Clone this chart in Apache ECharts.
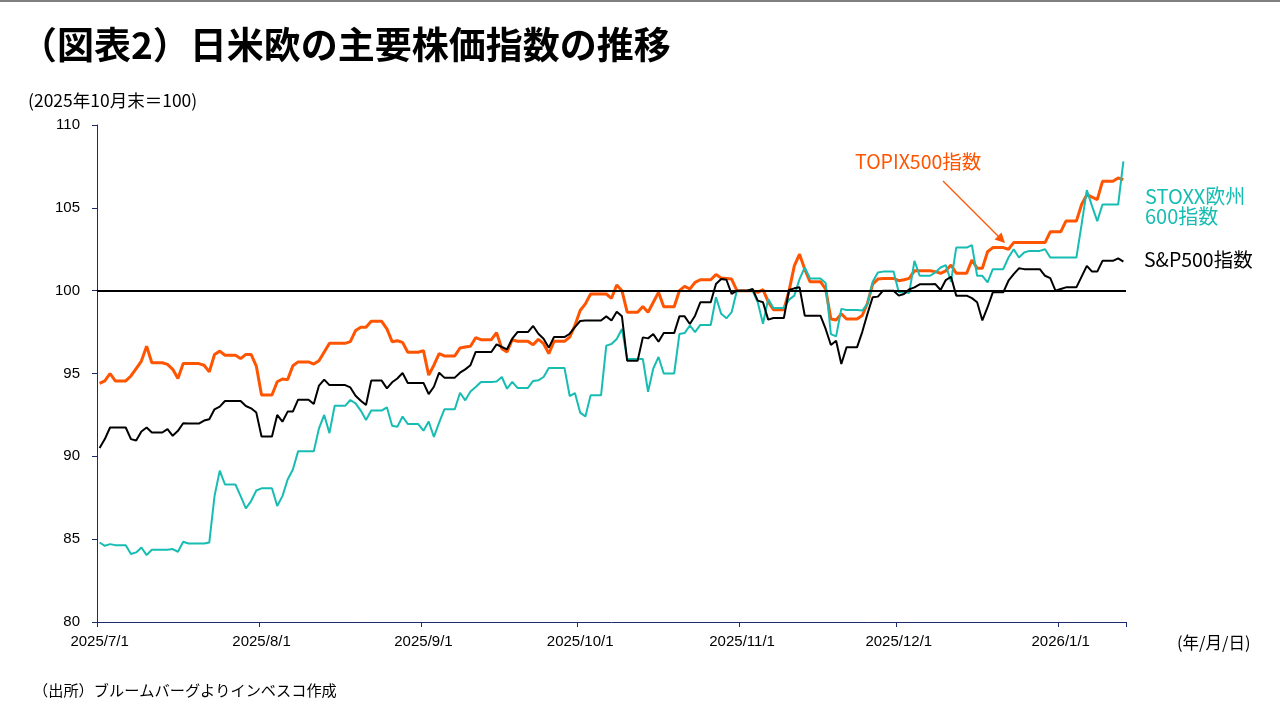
<!DOCTYPE html>
<html>
<head>
<meta charset="utf-8">
<script src="https://cdn.jsdelivr.net/npm/echarts@6/dist/echarts.min.js"></script>
<style>
html,body{margin:0;padding:0;background:#fff;}
#chart{width:1280px;height:720px;}
</style>
</head>
<body>
<div id="chart"></div>
<script>
// Calendar-day values (weekends/holidays carry the previous close), 2025/7/1 .. 2026/1/13
const topix500 = [
 // Jul
 94.4,94.55,95.0,94.55,94.55,94.55,94.85,95.3,95.75,96.65,95.65,95.65,95.65,95.55,95.25,94.7,95.6,95.6,95.6,95.6,95.5,95.1,96.15,96.35,96.1,96.1,96.1,95.9,96.15,96.15,95.45,
 // Aug
 93.7,93.7,93.7,94.5,94.67,94.63,95.47,95.7,95.7,95.7,95.57,95.77,96.3,96.82,96.82,96.82,96.82,96.92,97.59,97.79,97.79,98.15,98.15,98.15,97.69,96.92,96.98,96.88,96.28,96.28,96.28,
 // Sep
 96.38,94.9,95.5,96.2,96.06,96.06,96.06,96.54,96.6,96.64,97.16,97.04,97.04,97.04,97.46,96.5,96.3,97.04,96.94,96.94,96.94,96.74,97.06,96.8,96.2,96.94,96.94,96.94,97.2,97.9,
 // Oct
 98.8,99.2,99.8,99.8,99.8,99.8,99.54,100.34,100.0,98.7,98.7,98.7,99.05,98.7,99.3,99.9,99.03,99.03,99.03,100.0,100.26,100.1,100.5,100.66,100.66,100.66,100.97,100.76,100.74,100.7,100.0,
 // Nov
 100.0,100.0,100.0,99.9,100.06,99.34,98.85,98.85,98.85,100.0,101.5,102.2,101.3,100.54,100.54,100.54,100.1,98.29,98.23,98.6,98.29,98.29,98.29,98.5,99.24,100.4,100.7,100.74,100.74,100.74,
 // Dec
 100.6,100.66,100.74,101.2,101.2,101.2,101.2,101.15,101.05,101.2,101.55,101.05,101.05,101.05,101.85,101.35,101.35,102.35,102.6,102.6,102.6,102.5,102.9,102.9,102.9,102.9,102.9,102.9,102.9,103.55,103.55,
 // Jan
 103.55,104.2,104.2,104.2,105.2,105.8,105.65,105.5,106.6,106.6,106.6,106.8,106.7
];
const stoxx600 = [
 // Jul
 84.8,84.6,84.7,84.64,84.64,84.64,84.1,84.2,84.5,84.04,84.36,84.36,84.36,84.36,84.4,84.24,84.84,84.74,84.74,84.74,84.74,84.8,87.6,89.14,88.3,88.3,88.3,87.6,86.86,87.3,87.94,
 // Aug
 88.07,88.07,88.07,87.0,87.6,88.6,89.2,90.3,90.3,90.3,90.3,91.69,92.5,91.4,93.05,93.05,93.05,93.4,93.2,92.76,92.2,92.76,92.76,92.76,92.96,91.85,91.79,92.4,91.95,91.95,91.95,
 // Sep
 91.55,92.1,91.17,92.03,92.84,92.84,92.84,93.84,93.38,93.92,94.19,94.49,94.49,94.49,94.52,94.79,94.08,94.49,94.13,94.13,94.13,94.55,94.59,94.79,95.33,95.33,95.33,95.33,93.64,93.82,
 // Oct
 92.64,92.41,93.68,93.68,93.68,96.68,96.78,97.08,97.69,95.88,95.88,95.88,95.88,93.9,95.3,96.0,95.0,95.0,95.0,97.38,97.44,97.9,97.5,97.93,97.93,97.93,99.6,98.6,98.33,98.7,100.0,
 // Nov
 100.0,100.0,100.0,99.3,98.0,99.5,98.95,98.95,98.95,99.46,99.7,100.7,101.4,100.74,100.74,100.74,100.46,97.38,97.24,98.9,98.83,98.83,98.83,98.8,99.2,100.54,101.1,101.15,101.15,101.15,
 // Dec
 99.9,99.9,99.86,101.8,100.9,100.9,100.9,101.1,101.4,101.54,100.54,102.6,102.6,102.6,102.75,100.9,100.9,100.5,101.3,101.3,101.3,102.0,102.5,102.0,102.3,102.4,102.4,102.4,102.5,102.0,102.0,
 // Jan
 102.0,102.0,102.0,102.0,104.0,106.07,105.1,104.2,105.2,105.2,105.2,105.2,107.8
];
const sp500 = [
 // Jul
 90.5,91.04,91.74,91.74,91.74,91.74,91.04,90.96,91.5,91.74,91.44,91.44,91.44,91.64,91.24,91.54,92.0,91.98,91.98,91.98,92.16,92.24,92.84,93.0,93.34,93.34,93.34,93.34,93.04,92.9,92.64,
 // Aug
 91.2,91.2,91.2,92.5,92.09,92.7,92.7,93.42,93.42,93.42,93.16,94.27,94.63,94.3,94.3,94.3,94.3,94.16,93.66,93.36,93.1,94.57,94.57,94.57,94.1,94.47,94.7,95.03,94.43,94.43,94.43,
 // Sep
 94.43,93.76,94.2,95.05,94.75,94.75,94.75,95.05,95.25,95.5,96.3,96.3,96.3,96.3,96.76,96.6,96.46,97.1,97.5,97.5,97.5,97.87,97.4,97.1,96.56,97.2,97.2,97.2,97.4,97.8,
 // Oct
 98.17,98.2,98.2,98.2,98.2,98.45,98.2,98.73,98.45,95.77,95.77,95.77,97.18,97.12,97.38,96.92,97.44,97.44,97.44,98.45,98.45,97.99,98.49,99.3,99.3,99.3,100.4,100.7,100.66,99.8,100.0,
 // Nov
 100.0,100.0,100.1,99.4,99.3,98.25,98.35,98.35,98.35,100.04,100.14,100.2,98.49,98.49,98.49,98.49,97.69,96.72,96.98,95.57,96.58,96.58,96.58,97.5,98.6,99.6,99.64,100.0,100.0,100.0,
 // Dec
 99.7,99.8,100.08,100.2,100.38,100.38,100.38,100.4,100.04,100.64,100.84,99.7,99.7,99.7,99.55,99.3,98.2,99.0,99.9,99.9,99.9,100.6,101.0,101.35,101.3,101.3,101.3,101.3,100.9,100.76,100.0,
 // Jan
 100.1,100.2,100.2,100.2,100.85,101.5,101.15,101.15,101.8,101.8,101.8,101.95,101.75
];
const monthTicks = ['2025/7/1','2025/8/1','2025/9/1','2025/10/1','2025/11/1','2025/12/1','2026/1/1'];
const yTicks = { min: 80, max: 110, step: 5 };

// category list: every calendar day from 2025/7/1
const categories = [];
{
  const d = new Date(2025, 6, 1);
  for (let i = 0; i < topix500.length; i++) {
    categories.push(d.getFullYear() + '/' + (d.getMonth() + 1) + '/' + d.getDate());
    d.setDate(d.getDate() + 1);
  }
}

const ORANGE = '#FF5400';
const TEAL = '#17BDB2';
const NAVY = '#1B2A6B';
const JP = '"Noto Sans CJK JP", "Noto Sans", sans-serif';
const LAT = '"Liberation Sans", Arial, sans-serif';

const chart = echarts.init(document.getElementById('chart'), null, { renderer: 'canvas' });
const isMonthStart = (idx, val) => monthTicks.indexOf(val) >= 0;

chart.setOption({
  animation: false,
  backgroundColor: '#ffffff',
  grid: { left: 97, right: 154, top: 125, bottom: 98, containLabel: false },
  xAxis: {
    type: 'category',
    data: categories,
    boundaryGap: true,
    axisLine: { show: true, lineStyle: { color: NAVY, width: 1 } },
    axisTick: { show: true, interval: isMonthStart, alignWithLabel: false, length: 5, lineStyle: { color: NAVY } },
    axisLabel: { interval: isMonthStart, color: '#000', fontSize: 15, fontFamily: LAT, margin: 12 },
    splitLine: { show: false }
  },
  yAxis: {
    type: 'value',
    min: yTicks.min, max: yTicks.max, interval: yTicks.step,
    axisLine: { show: true, lineStyle: { color: NAVY, width: 1 } },
    axisTick: { show: true, length: 5, lineStyle: { color: NAVY } },
    axisLabel: { color: '#000', fontSize: 15, fontFamily: LAT, margin: 17 },
    splitLine: { show: false }
  },
  series: [
    {
      name: 'TOPIX500指数', type: 'line', data: topix500, symbol: 'none', z: 3,
      lineStyle: { color: ORANGE, width: 3 }, itemStyle: { color: ORANGE }
    },
    {
      name: 'STOXX欧州600指数', type: 'line', data: stoxx600, symbol: 'none', z: 4,
      lineStyle: { color: TEAL, width: 2 }, itemStyle: { color: TEAL }
    },
    {
      name: 'S&P500指数', type: 'line', data: sp500, symbol: 'none', z: 5,
      lineStyle: { color: '#000', width: 2 }, itemStyle: { color: '#000' },
      markLine: {
        silent: true, symbol: ['none', 'none'], label: { show: false },
        lineStyle: { color: '#000', width: 2, type: 'solid' },
        data: [{ yAxis: 100 }]
      }
    }
  ],
  graphic: [
    { type: 'rect', shape: { x: 0, y: 0, width: 1280, height: 2 }, style: { fill: '#7f7f7f' } },
    { type: 'text', x: 20, y: 45, style: { text: '（図表2）日米欧の主要株価指数の推移', fontSize: 37, fontWeight: 'bold', fontFamily: JP, fill: '#000', verticalAlign: 'middle' } },
    { type: 'text', x: 28, y: 100, style: { text: '(2025年10月末＝100)', fontSize: 17.5, fontFamily: JP, fill: '#000', verticalAlign: 'middle' } },
    { type: 'text', x: 1177, y: 643, style: { text: '(年/月/日)', fontSize: 16.5, fontFamily: JP, fill: '#000', verticalAlign: 'middle' } },
    { type: 'text', x: 33, y: 690, style: { text: '（出所）ブルームバーグよりインベスコ作成', fontSize: 15.2, fontFamily: JP, fill: '#000', verticalAlign: 'middle' } },
    { type: 'text', x: 855, y: 162, style: { text: 'TOPIX500指数', fontSize: 19.5, fontFamily: JP, fill: ORANGE, verticalAlign: 'middle' } },
    { type: 'text', x: 1145, y: 196, style: { text: 'STOXX欧州', fontSize: 20, fontFamily: JP, fill: TEAL, verticalAlign: 'middle' } },
    { type: 'text', x: 1145, y: 216, style: { text: '600指数', fontSize: 20, fontFamily: JP, fill: TEAL, verticalAlign: 'middle' } },
    { type: 'text', x: 1144, y: 260, style: { text: 'S&P500指数', fontSize: 19.5, fontFamily: JP, fill: '#000', verticalAlign: 'middle' } },
    { type: 'line', shape: { x1: 943, y1: 181, x2: 999, y2: 237 }, style: { stroke: ORANGE, lineWidth: 1.2 } },
    { type: 'polygon', shape: { points: [[1005, 243], [994.5, 239.5], [1001.5, 232.5]] }, style: { fill: ORANGE } }
  ]
});
</script>
</body>
</html>
